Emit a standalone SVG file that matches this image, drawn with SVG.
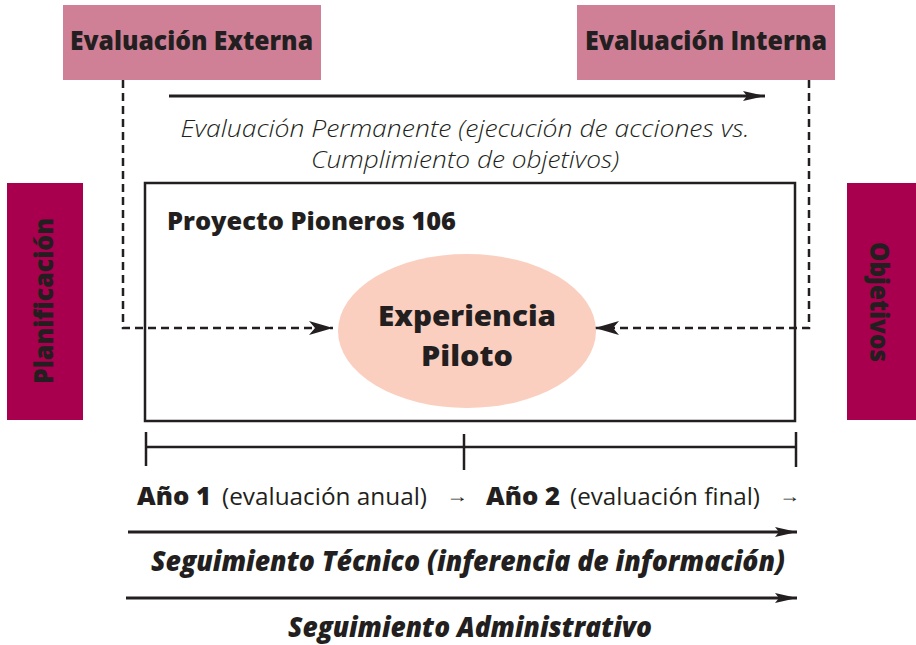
<svg xmlns="http://www.w3.org/2000/svg" width="916" height="645" viewBox="0 0 916 645">
<defs>
<style>
text{font-family:"Open Sans","Liberation Sans",sans-serif;fill:#231f20}
.b{font-weight:800}
.bi{font-weight:800;font-style:italic}
.li{font-weight:300;font-style:italic}
.r{font-weight:400}
.solid{stroke:#231f20;stroke-width:3;fill:none}
.dash{stroke:#231f20;stroke-width:2.5;fill:none;stroke-dasharray:8 5}
</style>
<marker id="ah" viewBox="0 0 22 10" refX="22" refY="5" markerWidth="22" markerHeight="10" markerUnits="userSpaceOnUse" orient="auto">
<path d="M0,0 L22,5 L0,10 L4,5 Z" fill="#231f20"/>
</marker>
<marker id="ad" viewBox="0 0 24 14" refX="24" refY="7" markerWidth="24" markerHeight="14" markerUnits="userSpaceOnUse" orient="auto">
<path d="M0,0 L24,7 L0,14 L6,7 Z" fill="#231f20"/>
</marker>
</defs>

<g id="connectors">
<line class="solid" x1="169" y1="96" x2="765" y2="96" marker-end="url(#ah)"/>
<polyline class="dash" points="123,80 123,328 333,328" marker-end="url(#ad)"/>
<polyline class="dash" points="809,80 809,328 595,328" marker-end="url(#ad)"/>
<line class="solid" x1="128" y1="532" x2="797" y2="532" marker-end="url(#ah)"/>
<line class="solid" x1="126" y1="598" x2="797" y2="598" marker-end="url(#ah)"/>
</g>

<g id="eval-externa">
<rect x="63" y="5" width="258" height="75" fill="#d08096"/>
<text class="b" x="70" y="50" font-size="26" textLength="243" lengthAdjust="spacingAndGlyphs">Evaluación Externa</text>
</g>
<g id="eval-interna">
<rect x="577" y="5" width="258" height="75" fill="#d08096"/>
<text class="b" x="585" y="50" font-size="26" textLength="242" lengthAdjust="spacingAndGlyphs">Evaluación Interna</text>
</g>

<g id="eval-permanente">
<text class="li" x="465" y="137" font-size="24" text-anchor="middle" textLength="569" lengthAdjust="spacingAndGlyphs">Evaluación Permanente (ejecución de acciones vs.</text>
<text class="li" x="465" y="168" font-size="24" text-anchor="middle" textLength="308" lengthAdjust="spacingAndGlyphs">Cumplimiento de objetivos)</text>
</g>

<g id="planificacion">
<rect x="7" y="183" width="76" height="237" fill="#a8004e"/>
<text class="b" transform="translate(53,301) rotate(-90)" font-size="26" text-anchor="middle" textLength="166" lengthAdjust="spacingAndGlyphs">Planificación</text>
</g>
<g id="objetivos">
<rect x="847" y="183" width="69" height="237" fill="#a8004e"/>
<text class="b" transform="translate(870,302) rotate(90)" font-size="26" text-anchor="middle" textLength="120" lengthAdjust="spacingAndGlyphs">Objetivos</text>
</g>

<g id="proyecto">
<rect x="145" y="183" width="650" height="238" fill="none" stroke="#231f20" stroke-width="2.5"/>
<text class="b" x="167" y="230" font-size="24" textLength="289" lengthAdjust="spacingAndGlyphs">Proyecto Pioneros 106</text>
</g>

<g id="experiencia">
<ellipse cx="467" cy="331" rx="129" ry="77" fill="#fbcfc0"/>
<text class="b" x="467" y="326" font-size="29" text-anchor="middle" textLength="178" lengthAdjust="spacingAndGlyphs">Experiencia</text>
<text class="b" x="467" y="366" font-size="29" text-anchor="middle" textLength="92" lengthAdjust="spacingAndGlyphs">Piloto</text>
</g>

<g id="timeline">
<line x1="146" y1="447" x2="796" y2="447" stroke="#231f20" stroke-width="2.5"/>
<line x1="146" y1="432" x2="146" y2="466" stroke="#231f20" stroke-width="2.5"/>
<line x1="464" y1="434" x2="464" y2="470" stroke="#231f20" stroke-width="2.5"/>
<line x1="796" y1="432" x2="796" y2="467" stroke="#231f20" stroke-width="2.5"/>
<text class="b" x="137" y="505" font-size="25" textLength="74" lengthAdjust="spacingAndGlyphs">Año 1</text>
<text class="r" x="222" y="505" font-size="24" textLength="205" lengthAdjust="spacingAndGlyphs">(evaluación anual)</text>
<text class="r" x="446" y="502" font-size="18" textLength="22" lengthAdjust="spacingAndGlyphs">→</text>
<text class="b" x="486" y="505" font-size="25" textLength="74" lengthAdjust="spacingAndGlyphs">Año 2</text>
<text class="r" x="570" y="505" font-size="24" textLength="190" lengthAdjust="spacingAndGlyphs">(evaluación final)</text>
<text class="r" x="779" y="502" font-size="18" textLength="21" lengthAdjust="spacingAndGlyphs">→</text>
</g>

<g id="seguimiento-tecnico">
<text class="bi" x="151" y="571" font-size="29" textLength="634" lengthAdjust="spacingAndGlyphs">Seguimiento Técnico (inferencia de información)</text>
</g>
<g id="seguimiento-administrativo">
<text class="bi" x="288" y="637" font-size="28" textLength="364" lengthAdjust="spacingAndGlyphs">Seguimiento Administrativo</text>
</g>
</svg>
